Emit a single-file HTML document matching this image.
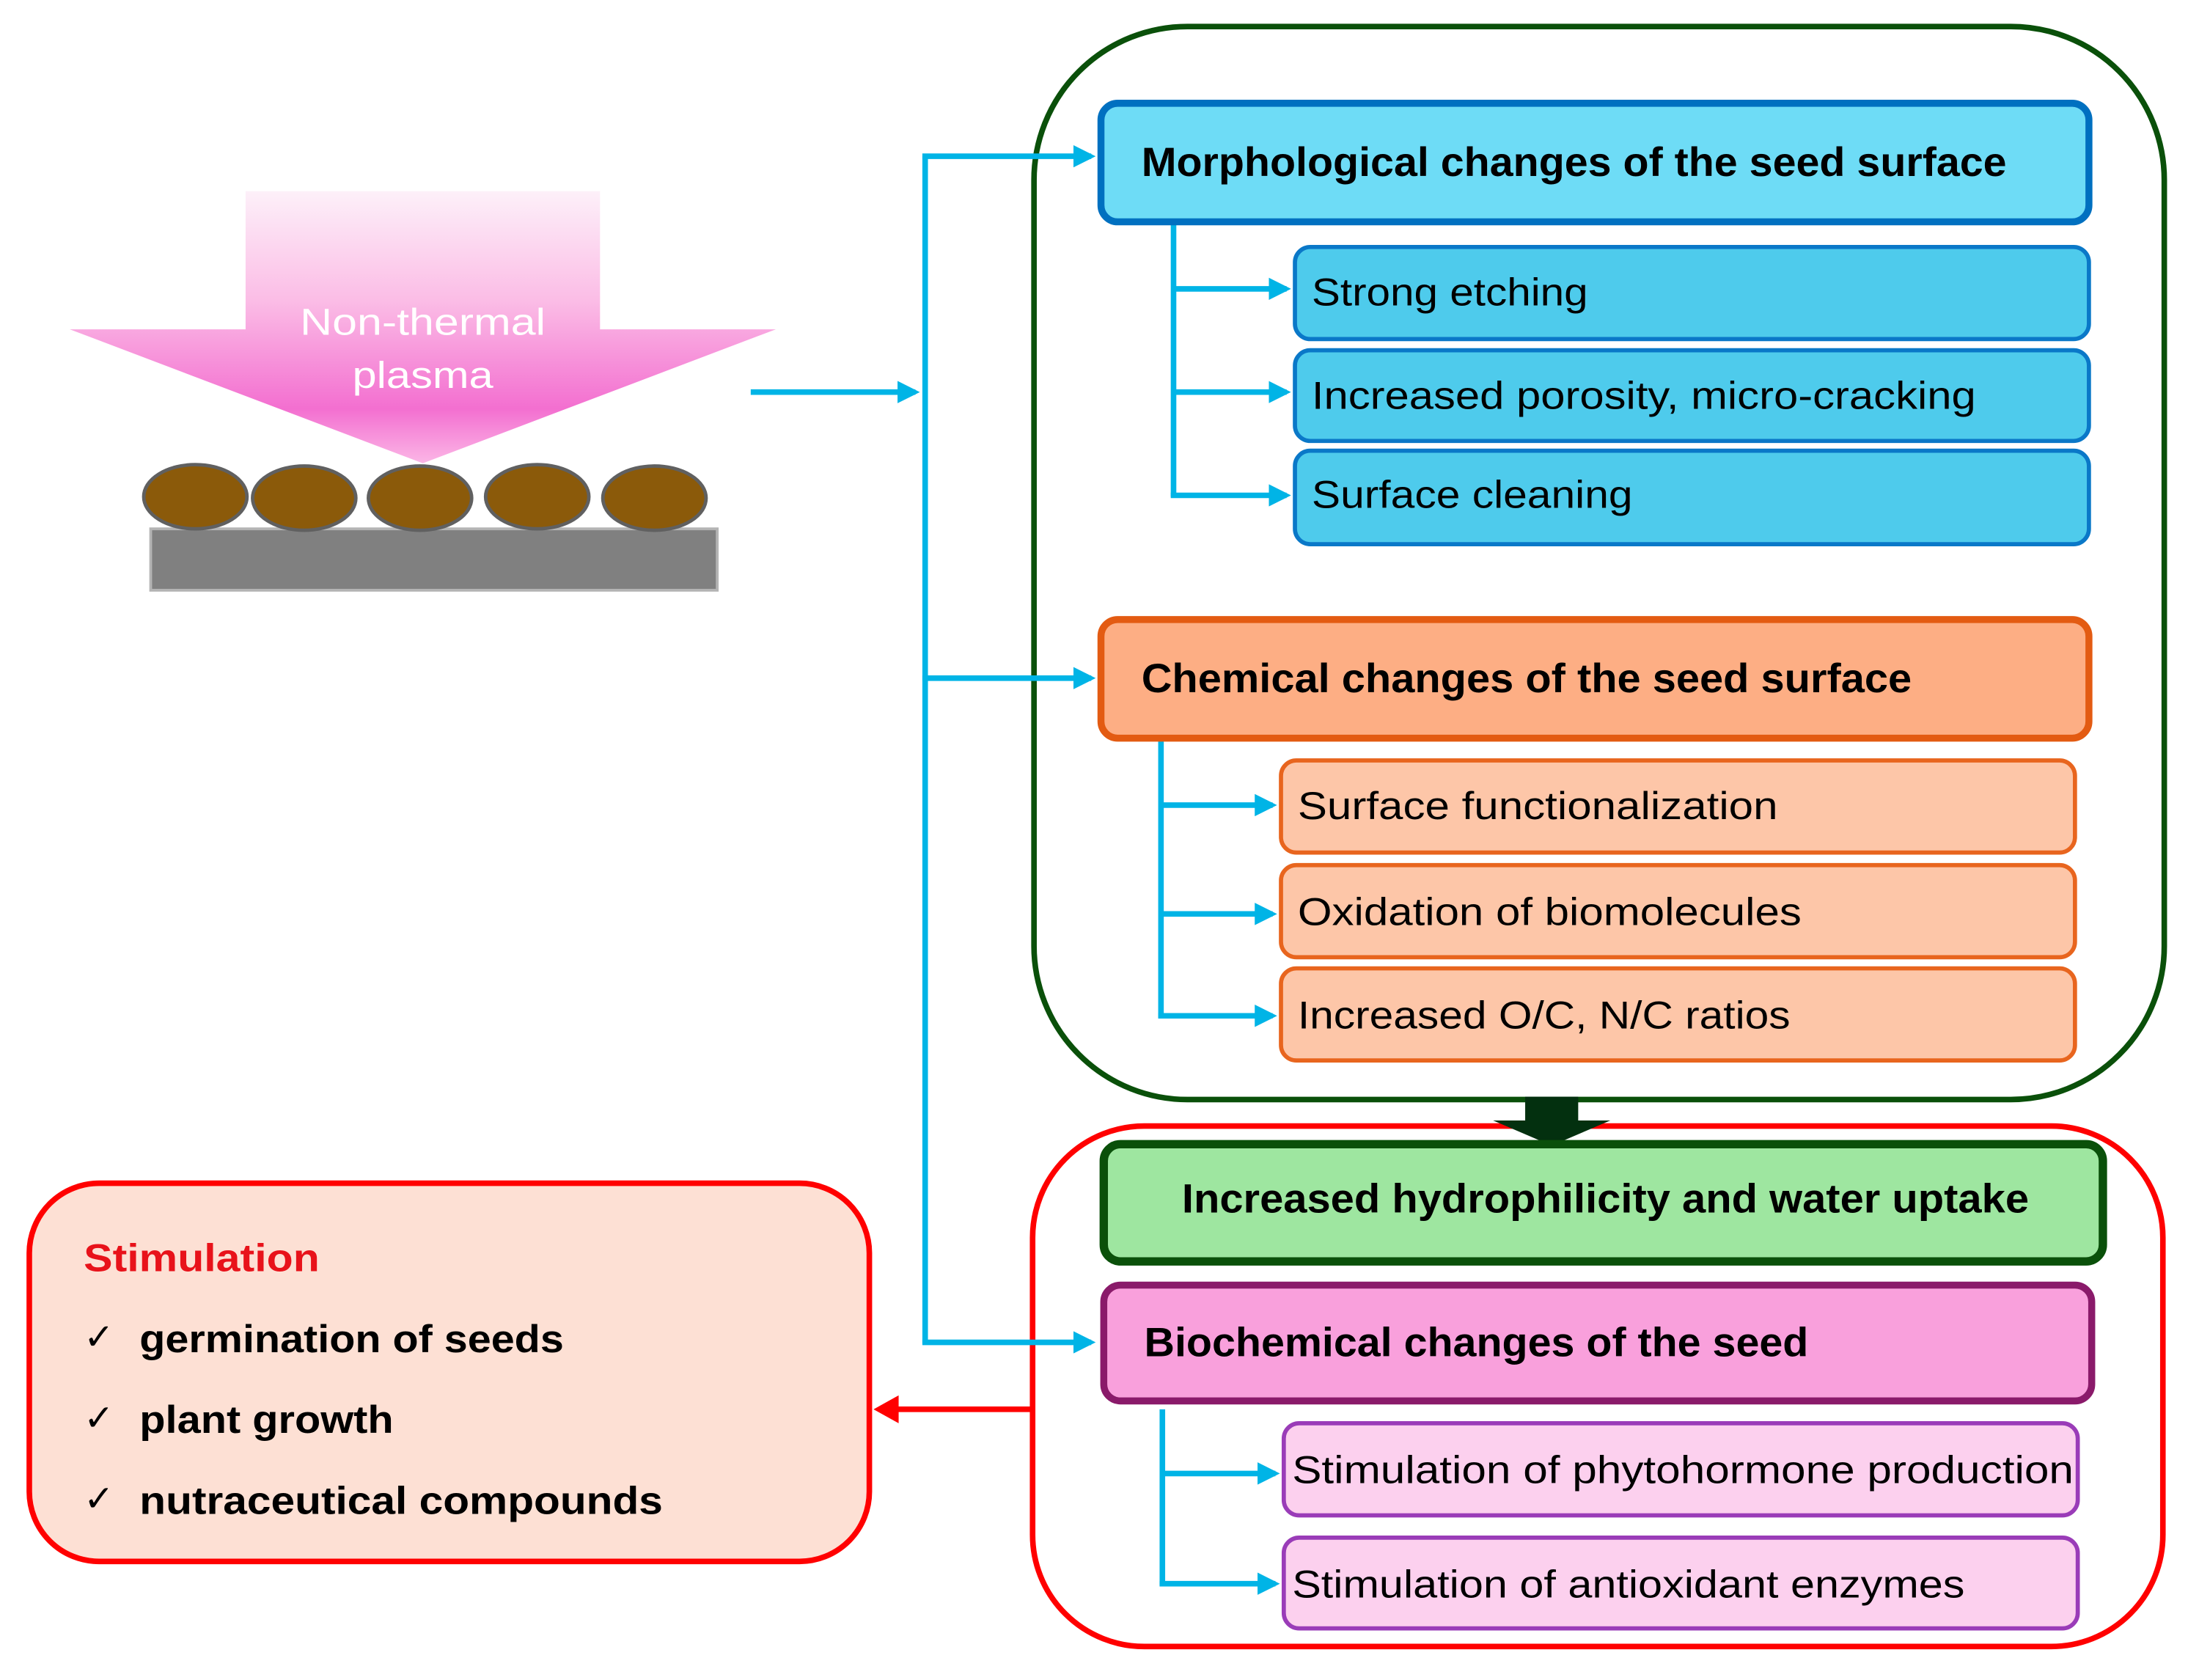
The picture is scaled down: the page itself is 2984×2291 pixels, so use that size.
<!DOCTYPE html>
<html><head><meta charset="utf-8"><style>html,body{margin:0;padding:0;background:#fff}svg{display:block}</style></head>
<body>
<svg width="2984" height="2291" viewBox="0 0 1568 1204" preserveAspectRatio="none" xmlns="http://www.w3.org/2000/svg" font-family="'Liberation Sans', sans-serif">
<defs>
<linearGradient id="pg" x1="0" y1="137" x2="0" y2="332" gradientUnits="userSpaceOnUse">
<stop offset="0" stop-color="#fdf0f9"/><stop offset="0.4" stop-color="#fbbde6"/><stop offset="0.8" stop-color="#f36fd0"/><stop offset="1" stop-color="#fbb6e6"/>
</linearGradient>
<marker id="ac" markerWidth="4" markerHeight="4" refX="3.2" refY="2" orient="auto" markerUnits="strokeWidth"><path d="M0,0 L4,2 L0,4 Z" fill="#00b4e6"/></marker>
</defs>
<!-- plasma arrow -->
<path d="M176,137 H430 V236 H556 L303,332 L50,236 H176 Z" fill="url(#pg)"/>
<text x="303" y="240" fill="#fff" font-size="27" text-anchor="middle" textLength="176" lengthAdjust="spacingAndGlyphs">Non-thermal</text>
<text x="303" y="278" fill="#fff" font-size="27" text-anchor="middle" textLength="101" lengthAdjust="spacingAndGlyphs">plasma</text>
<rect x="108" y="379" width="406" height="44" fill="#808080" stroke="#b4b4b4" stroke-width="2"/>
<g fill="#8b5a0a" stroke="#606060" stroke-width="2.5">
<ellipse cx="140" cy="356" rx="37" ry="23"/><ellipse cx="218" cy="357" rx="37" ry="23"/><ellipse cx="301" cy="357" rx="37" ry="23"/><ellipse cx="385" cy="356" rx="37" ry="23"/><ellipse cx="469" cy="357" rx="37" ry="23"/>
</g>
<!-- containers -->
<rect x="741" y="19" width="810" height="769" rx="110" fill="none" stroke="#0a500a" stroke-width="4"/>
<rect x="740" y="807" width="810" height="373" rx="80" fill="none" stroke="#ff0000" stroke-width="4"/>
<!-- cyan connectors -->
<g stroke="#00b4e6" stroke-width="4" fill="none">
<path d="M663,112 V963"/>
<path d="M538,281 H656" marker-end="url(#ac)"/>
<path d="M661,112 H782" marker-end="url(#ac)"/>
<path d="M661,486 H782" marker-end="url(#ac)"/>
<path d="M661,962 H782" marker-end="url(#ac)"/>
<path d="M841,160 V356"/>
<path d="M841,207 H922" marker-end="url(#ac)"/>
<path d="M841,281 H922" marker-end="url(#ac)"/>
<path d="M839,355 H922" marker-end="url(#ac)"/>
<path d="M832,530 V729"/>
<path d="M832,577 H912" marker-end="url(#ac)"/>
<path d="M832,655 H912" marker-end="url(#ac)"/>
<path d="M830,728 H912" marker-end="url(#ac)"/>
<path d="M833,1010 V1136"/>
<path d="M833,1056 H914" marker-end="url(#ac)"/>
<path d="M831,1135 H914" marker-end="url(#ac)"/>
</g>
<!-- Morph -->
<rect x="789" y="74" width="708" height="85" rx="12" fill="#6edcf6" stroke="#0070c0" stroke-width="5"/>
<text x="818" y="126" font-size="29" font-weight="bold" textLength="620" lengthAdjust="spacingAndGlyphs">Morphological changes of the seed surface</text>
<g fill="#4ecbec" stroke="#0a78c8" stroke-width="3">
<rect x="928" y="177" width="569" height="66" rx="11"/><rect x="928" y="251" width="569" height="65" rx="11"/><rect x="928" y="323" width="569" height="67" rx="11"/>
</g>
<g font-size="28">
<text x="940" y="219" textLength="198" lengthAdjust="spacingAndGlyphs">Strong etching</text>
<text x="940" y="293" textLength="476" lengthAdjust="spacingAndGlyphs">Increased porosity, micro-cracking</text>
<text x="940" y="364" textLength="230" lengthAdjust="spacingAndGlyphs">Surface cleaning</text>
</g>
<!-- Chemical -->
<rect x="789" y="444" width="708" height="85" rx="12" fill="#fdae84" stroke="#e35b12" stroke-width="5"/>
<text x="818" y="496" font-size="29" font-weight="bold" textLength="552" lengthAdjust="spacingAndGlyphs">Chemical changes of the seed surface</text>
<g fill="#fdc6a8" stroke="#e8651e" stroke-width="3">
<rect x="918" y="545" width="569" height="66" rx="11"/><rect x="918" y="620" width="569" height="66" rx="11"/><rect x="918" y="694" width="569" height="66" rx="11"/>
</g>
<g font-size="28">
<text x="930" y="587" textLength="344" lengthAdjust="spacingAndGlyphs">Surface functionalization</text>
<text x="930" y="663" textLength="361" lengthAdjust="spacingAndGlyphs">Oxidation of biomolecules</text>
<text x="930" y="737" textLength="353" lengthAdjust="spacingAndGlyphs">Increased O/C, N/C ratios</text>
</g>
<!-- dark arrow -->
<path d="M1093,786 H1131 V803 H1154 L1112,821 L1070,803 H1093 Z" fill="#03300f"/>
<!-- hydro -->
<rect x="791" y="820" width="716" height="84" rx="12" fill="#9ee6a0" stroke="#0a500a" stroke-width="6"/>
<text x="847" y="869" font-size="29" font-weight="bold" textLength="607" lengthAdjust="spacingAndGlyphs">Increased hydrophilicity and water uptake</text>
<!-- biochem -->
<rect x="791" y="921" width="708" height="83" rx="12" fill="#f9a0dc" stroke="#8a1a6a" stroke-width="5"/>
<text x="820" y="972" font-size="29" font-weight="bold" textLength="476" lengthAdjust="spacingAndGlyphs">Biochemical changes of the seed</text>
<g fill="#fcd0ee" stroke="#9a3cb8" stroke-width="3">
<rect x="920" y="1020" width="569" height="66" rx="11"/><rect x="920" y="1102" width="569" height="65" rx="11"/>
</g>
<g font-size="28">
<text x="926" y="1063" textLength="560" lengthAdjust="spacingAndGlyphs">Stimulation of phytohormone production</text>
<text x="926" y="1145" textLength="482" lengthAdjust="spacingAndGlyphs">Stimulation of antioxidant enzymes</text>
</g>
<!-- red arrow -->
<path d="M740,1010 H640" stroke="#ff0000" stroke-width="4"/>
<path d="M626,1010 L644,1000 L644,1020 Z" fill="#ff0000"/>
<!-- stimulation box -->
<rect x="21" y="848" width="602" height="271" rx="50" fill="#fde0d4" stroke="#ff0000" stroke-width="4"/>
<text x="60" y="911" font-size="28" font-weight="bold" fill="#e8121a" textLength="169" lengthAdjust="spacingAndGlyphs">Stimulation</text>
<g font-size="28" font-weight="bold">
<text x="60" y="967" font-weight="normal" font-family="'DejaVu Sans', sans-serif" font-size="26">✓</text>
<text x="60" y="1025" font-weight="normal" font-family="'DejaVu Sans', sans-serif" font-size="26">✓</text>
<text x="60" y="1083" font-weight="normal" font-family="'DejaVu Sans', sans-serif" font-size="26">✓</text>
<text x="100" y="969" textLength="304" lengthAdjust="spacingAndGlyphs">germination of seeds</text>
<text x="100" y="1027" textLength="182" lengthAdjust="spacingAndGlyphs">plant growth</text>
<text x="100" y="1085" textLength="375" lengthAdjust="spacingAndGlyphs">nutraceutical compounds</text>
</g>
</svg>
</body></html>
